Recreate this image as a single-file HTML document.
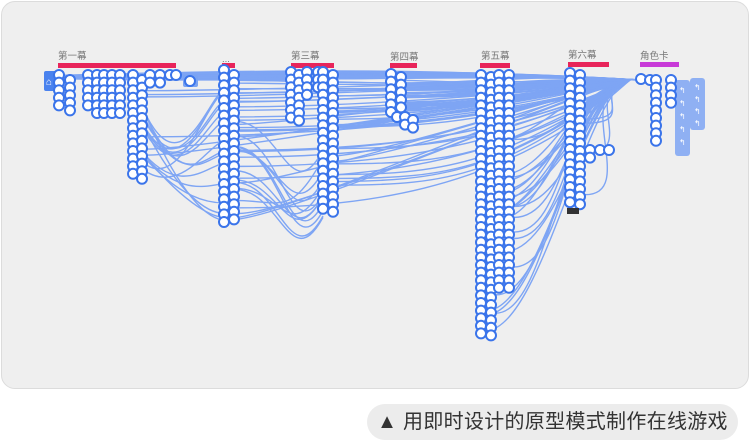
<!DOCTYPE html>
<html><head><meta charset="utf-8"><style>
html,body{margin:0;padding:0;background:#fff;width:750px;height:445px;overflow:hidden;font-family:"Liberation Sans","Noto Sans CJK SC",sans-serif}
#panel{position:absolute;left:1px;top:1px;width:746px;height:386px;background:#efefef;border:1px solid #dcdcdc;border-radius:14px}
#cap{position:absolute;left:367px;top:404px;width:371px;height:36px;background:#ececec;border-radius:18px;font-size:20px;color:#333;line-height:36px;text-align:center;letter-spacing:0.3px}
svg{position:absolute;left:0;top:0}
</style></head><body>
<div id="panel"></div>
<div id="cap">▲ 用即时设计的原型模式制作在线游戏</div>
<svg id="s" width="750" height="445" xmlns="http://www.w3.org/2000/svg">
<g font-family="Liberation Sans,Noto Sans CJK SC,sans-serif" font-size="9.5" fill="#777">
<text x="58" y="59">第一幕</text>
<text x="222" y="62">...</text>
<text x="291" y="59">第三幕</text>
<text x="390" y="60">第四幕</text>
<text x="481" y="59">第五幕</text>
<text x="568" y="58">第六幕</text>
<text x="640" y="59">角色卡</text>
</g>
<g fill="#e8245a">
<rect x="58" y="63" width="118" height="5"/>
<rect x="222" y="63" width="13" height="5"/>
<rect x="291" y="63" width="43" height="5"/>
<rect x="390" y="63" width="27" height="5"/>
<rect x="480" y="63" width="30" height="5"/>
<rect x="568" y="62" width="41" height="5"/>
<rect x="640" y="62" width="39" height="5" fill="#c83ad8"/>
</g>
<g id="lines" fill="none" stroke="#7ea5f4" stroke-width="1.4"></g>
<rect x="44" y="71" width="14" height="20" rx="2" fill="#4a82ee"/>
<text x="46" y="85" font-size="10" fill="#fff">⌂</text>
<rect x="183" y="75" width="15" height="12" rx="2" fill="#7aa3f2"/>
<rect x="675" y="80" width="15" height="76" rx="3" fill="#8fb0f3"/>
<rect x="690" y="78" width="15" height="52" rx="3" fill="#8fb0f3"/>
<g fill="#fff" font-size="8">
<text x="679" y="93">↰</text><text x="679" y="106">↰</text><text x="679" y="119">↰</text><text x="679" y="132">↰</text><text x="679" y="145">↰</text>
<text x="694" y="90">↰</text><text x="694" y="102">↰</text><text x="694" y="114">↰</text><text x="694" y="126">↰</text>
</g>
<g id="nodes"></g>
</svg>
<script>
var L=document.getElementById('lines'),N=document.getElementById('nodes'),ns='http://www.w3.org/2000/svg';
function el(p,t,a){var e=document.createElementNS(ns,t);for(var k in a)e.setAttribute(k,a[k]);p.appendChild(e);return e;}
var seed=7;function r(){seed=(seed*9301+49297)%233280;return seed/233280;}
for(var i=0;i<40;i++){var y=68+i*0.4;el(L,'path',{d:'M60 '+(75+r()*4)+' C300 '+y+' 450 '+(68+r()*6)+' 640 80'});}
var cols=[[224,80,224],[234,80,225],[323,80,210],[333,80,213],[391,80,113],[481,80,339],[491,80,339],[509,80,295],[580,80,208],[142,80,180],[499,80,295]];
for(var i=0;i<110;i++){var c=cols[Math.floor(r()*cols.length)];var ty=c[1]+r()*(c[2]-c[1]);
 if(c[0]<481 && r()<0.5){el(L,'path',{d:'M'+(c[0]+5)+' '+ty+' C'+(c[0]+120)+' '+ty+' 500 '+(ty-10)+' 630 80'});}
 else el(L,'path',{d:'M630 80 C'+(560+r()*30)+' 90 '+(c[0]+60)+' '+ty+' '+(c[0]+5)+' '+ty});}
for(var i=0;i<16;i++){var y1=90+r()*130;el(L,'path',{d:'M140 '+(100+r()*80)+' C180 200 210 '+y1+' 224 '+y1});}
for(var i=0;i<12;i++){var y1=120+r()*90,y2=140+r()*80;el(L,'path',{d:'M235 '+y1+' C280 '+y1+' 290 '+(y2+60)+' 323 '+y2});}
var C=[[59,75,112],[70,80,117],[88,75,112],[97,75,117],[104,75,120],[112,75,117],[120,75,117],[133,75,180],[142,80,180],[150,75,90],[160,75,90],[170,75,80],[176,75,75],[190,81,81],
[224,70,224],[234,75,225],
[291,72,120],[299,75,123],[307,72,95],[318,72,93],[323,72,210],[333,75,213],
[391,74,113],[401,77,110],[397,117,124],[405,117,130],[413,120,135],
[481,75,339],[491,77,339],[499,75,295],[509,75,295],
[570,73,208],[580,75,208],[590,150,158],[600,150,150],[609,150,150],
[641,79,79],[650,80,80],[656,80,145],[671,80,108]];
C.forEach(function(c){for(var y=c[1];y<=c[2]+0.1;y+=7.6){el(N,'circle',{cx:c[0],cy:y,r:5,fill:'#fff',stroke:'#3a74ea','stroke-width':2});}});
el(N,'rect',{x:567,y:208,width:12,height:6,fill:'#333'});
</script>
</body></html>
